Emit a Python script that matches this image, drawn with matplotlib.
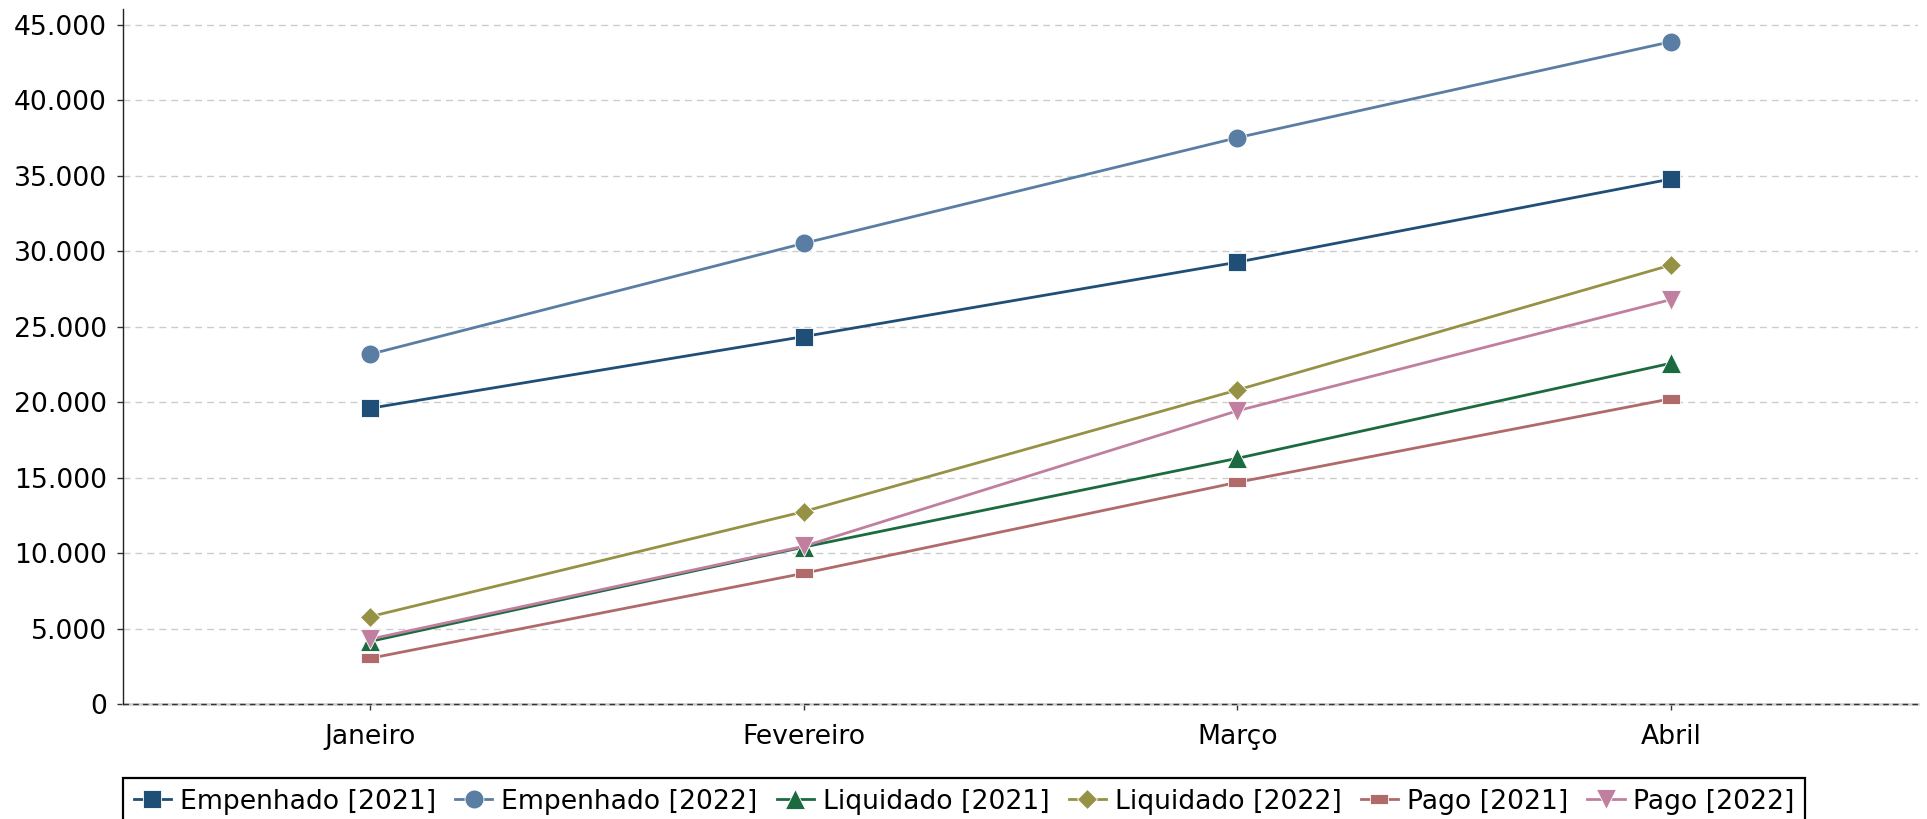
import matplotlib
matplotlib.use("Agg")
import matplotlib.pyplot as plt
from matplotlib.ticker import FuncFormatter

months = ["Janeiro", "Fevereiro", "Março", "Abril"]
empenhado_2021 = [19600, 24350, 29280, 34790]
empenhado_2022 = [23180, 30530, 37530, 43890]
liquidado_2021 = [4150, 10400, 16280, 22580]
liquidado_2022 = [5790, 12750, 20810, 29090]
pago_2021 = [3030, 8660, 14690, 20230]
pago_2022 = [4300, 10450, 19430, 26800]

series_labels = ["Empenhado [2021]", "Empenhado [2022]", "Liquidado [2021]",
                 "Liquidado [2022]", "Pago [2021]", "Pago [2022]"]
series_values = [empenhado_2021, empenhado_2022, liquidado_2021,
                 liquidado_2022, pago_2021, pago_2022]
colors = ["#1f4e76", "#5a7ea3", "#1c6b40", "#969245", "#b06a69", "#c07f9f"]
rect = [(-1, -0.58), (1, -0.58), (1, 0.58), (-1, 0.58), (-1, -0.58)]
markers = ["s", "o", "^", "D", rect, "v"]
msizes = [6.6, 6.8, 7.0, 5.1, 6.8, 7.0]

plt.rcParams["font.family"] = ["DejaVu Sans"]
fig = plt.figure(figsize=(9.635, 4.095), dpi=200)
ax = fig.add_axes([0.0638, 0.1404, 0.9315, 0.8486])

x = list(range(len(months)))
for lab, vals, c, m, ms in zip(series_labels, series_values, colors, markers, msizes):
    ax.plot(x, vals, color=c, lw=1.0, marker=m, markersize=ms,
            markeredgecolor="white", markeredgewidth=0.3, label=lab, zorder=3)

ax.set_xlim(-0.57, 3.57)
ax.set_ylim(0, 46060)
ax.set_yticks(range(0, 45001, 5000))
ax.yaxis.set_major_formatter(FuncFormatter(lambda v, p: f"{int(v):,}".replace(",", ".")))
ax.set_xticks(x)
ax.set_xticklabels(months)

ax.grid(axis="y", color="#cccccc", linestyle=(0, (5, 3.6)), linewidth=0.5, zorder=0)
ax.set_axisbelow(True)
for s in ["top", "right"]:
    ax.spines[s].set_visible(False)
ax.spines["left"].set_color("#222222")
ax.spines["left"].set_linewidth(0.5)
ax.spines["bottom"].set_color("#cccccc")
ax.spines["bottom"].set_linewidth(0.9)
ax.spines["bottom"].set_zorder(2)
ax.axhline(0, color="#333333", linestyle=(0, (4, 3)), linewidth=0.5, zorder=4,
           clip_on=False)

ax.tick_params(axis="both", labelsize=9.6, length=2.2, width=0.5, color="#333333")
ax.tick_params(axis="y", pad=3.6)
ax.tick_params(axis="x", pad=5.0)

leg = ax.legend(loc="upper left", bbox_to_anchor=(0.0, -0.1065), ncol=6,
                fontsize=9.6, frameon=True, fancybox=False, framealpha=1,
                edgecolor="black", borderpad=0.4, handlelength=1.4,
                handletextpad=0.33, columnspacing=0.72, borderaxespad=0)
leg.get_frame().set_linewidth(0.8)

fig.savefig("out.png", dpi=200)
